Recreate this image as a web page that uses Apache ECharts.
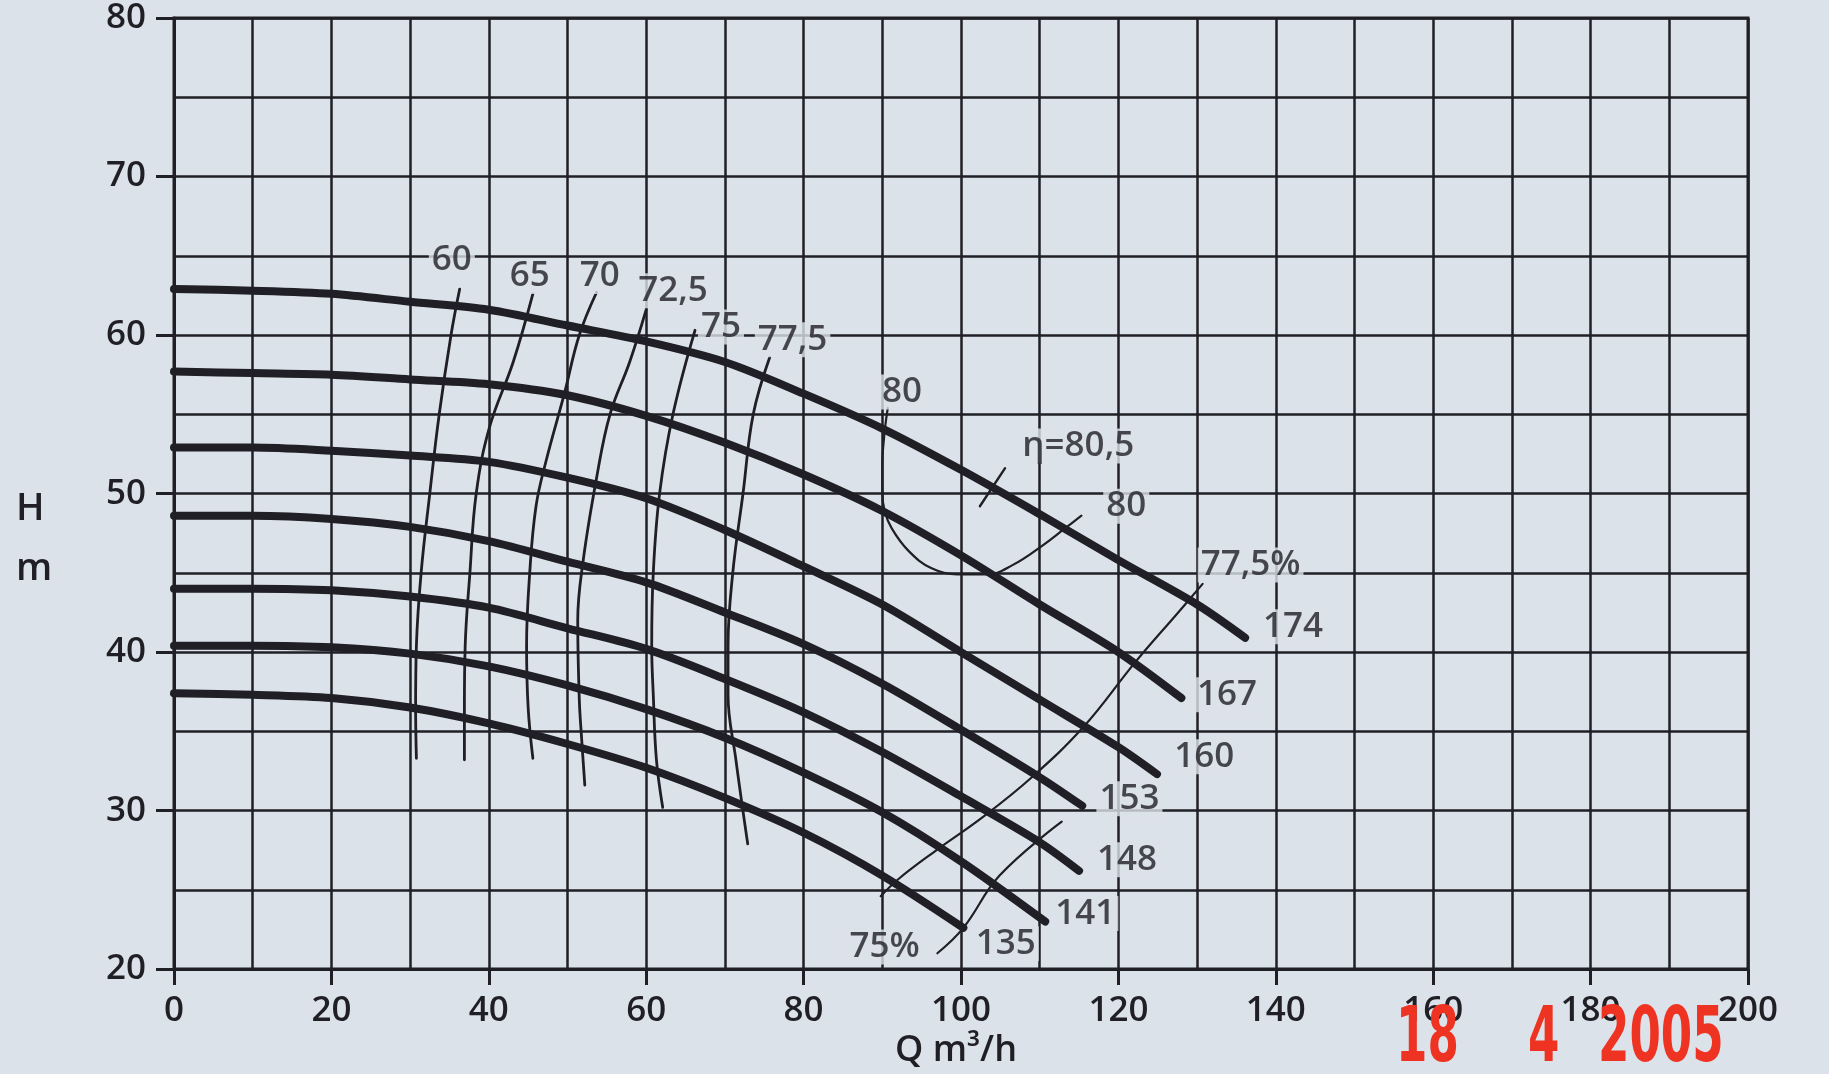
<!DOCTYPE html>
<html>
<head>
<meta charset="utf-8">
<script src="https://cdn.jsdelivr.net/npm/echarts@6/dist/echarts.min.js"></script>
<style>
html,body{margin:0;padding:0;background:#dce2e9;}
#c{width:1829px;height:1074px;}
</style>
</head>
<body>
<div id="c"></div>
<script>
// ---- data (Q in m3/h, H in m) ----
const xTicks = [0, 20, 40, 60, 80, 100, 120, 140, 160, 180, 200];
const yTicks = [20, 30, 40, 50, 60, 70, 80];

const curve174 = [[0,62.9],[10,62.8],[20,62.6],[30,62.1],[40,61.6],[50,60.6],[60,59.6],[70,58.3],[80,56.3],[90,54.1],[100,51.5],[110,48.7],[120,45.8],[130,43.0],[136.1,40.9]];
const curve167 = [[0,57.7],[10,57.6],[20,57.5],[30,57.2],[40,56.9],[50,56.2],[60,54.9],[70,53.2],[80,51.2],[90,48.9],[100,46.1],[110,43.0],[120,40.0],[128,37.1]];
const curve160 = [[0,52.9],[10,52.9],[20,52.7],[30,52.4],[40,52.0],[50,51.0],[60,49.7],[70,47.7],[80,45.4],[90,43.0],[100,40.0],[110,37.0],[120,34.0],[124.9,32.3]];
const curve153 = [[0,48.6],[10,48.6],[20,48.4],[30,47.9],[40,47.0],[50,45.7],[60,44.4],[70,42.5],[80,40.5],[90,38.0],[100,35.1],[110,32.1],[115.4,30.3]];
const curve148 = [[0,44.0],[10,44.0],[20,43.9],[30,43.5],[40,42.8],[50,41.5],[60,40.2],[70,38.3],[80,36.2],[90,33.7],[100,30.9],[110,28.0],[115,26.2]];
const curve141 = [[0,40.4],[10,40.4],[20,40.3],[30,39.9],[40,39.1],[50,37.9],[60,36.4],[70,34.6],[80,32.4],[90,29.9],[100,26.8],[110.7,23.0]];
const curve135 = [[0,37.4],[10,37.3],[20,37.1],[30,36.5],[40,35.5],[50,34.2],[60,32.7],[70,30.8],[80,28.6],[90,25.9],[100.3,22.6]];

const eff60   = [[36.3,62.9],[35.2,60],[33.7,55],[32.5,50],[31.4,45],[30.8,40.4],[30.7,36.5],[30.8,33.3]];
const eff65   = [[45.6,62.6],[43.1,58.3],[40.1,54.2],[38.4,50],[37.6,45],[37.0,40.4],[36.9,36.5],[36.9,33.2]];
const eff70   = [[53.7,62.7],[51.5,60],[49.6,56.3],[47.3,52.1],[46.0,49.2],[45.2,45],[44.8,40.4],[45.0,36.5],[45.6,33.3]];
const eff72_5 = [[60.0,61.6],[57.9,58.3],[55.4,55],[53.7,51],[52.0,45.8],[51.3,42],[51.5,37],[51.8,34.5],[52.2,31.6]];
const eff75   = [[66.2,60.3],[63.4,55],[61.7,50],[60.9,45],[60.7,40.4],[60.9,37.3],[61.3,33.2],[62.1,30.2]];
const eff77_5 = [[75.7,58.6],[73.6,55],[72.3,50],[71.0,45],[70.4,40.4],[70.4,37.3],[71.4,33.2],[72.9,27.9]];
const eff80   = [[90.7,55.4],[90.3,53.9],[90.0,51.8],[90.0,50.1],[90.3,48.9],[91.2,47.8],[93.3,46.4],[96.2,45.3],[99.5,44.9],[103.3,44.9],[106.6,45.5],[110.3,46.7],[113.2,47.8],[115.3,48.6]];
const effR77_5 = [[89.8,24.6],[92.1,25.7],[96.6,27.4],[102.8,29.6],[109.0,32.1],[115.6,35.3],[122.2,39.4],[127.6,42.5],[130.7,44.3]];
const effR75   = [[97.0,21.0],[100.3,22.6],[104.9,25.9],[112.8,29.3]];
const bestPoint = [[102.4,49.2],[105.6,51.6]];

const labels = [
  [35.3,64.7,'60'],[45.2,63.7,'65'],[54.1,63.7,'70'],[63.4,62.8,'72,5'],[69.5,60.5,'75'],[78.6,59.7,'77,5'],
  [92.5,56.4,'80'],[114.9,53.0,'η=80,5'],[121.0,49.2,'80'],[136.8,45.5,'77,5%'],
  [142.2,41.6,'174'],[133.8,37.3,'167'],[130.9,33.4,'160'],[121.4,30.75,'153'],[121.1,26.9,'148'],[115.8,23.5,'141'],[105.7,21.6,'135'],[90.3,21.4,'75%']
];

// ---- styling ----
const INK = '#1f1f25';
const PAPER = '#dce2e9';
const FONT = '"Open Sans", Lato, sans-serif';
const STAMP = '"Liberation Sans Narrow", "DejaVu Sans Condensed", sans-serif';

function headLine(d){return {type:'line',data:d,smooth:0.3,showSymbol:false,silent:true,
  lineStyle:{color:INK,width:8,cap:'round'},z:5};}
function effLine(d,w){return {type:'line',data:d,smooth:0.4,showSymbol:false,silent:true,
  lineStyle:{color:INK,width:w,cap:'round'},z:4};}

const chart = echarts.init(document.getElementById('c'), null, {renderer:'canvas'});
chart.setOption({
  backgroundColor: PAPER,
  animation:false,
  grid:{left:174,right:81,top:18,bottom:96,show:true,borderColor:INK,borderWidth:3,backgroundColor:'transparent'},
  xAxis:[
    {type:'value',min:0,max:200,interval:10,axisLine:{show:false},axisTick:{show:false},axisLabel:{show:false},
     splitLine:{show:true,lineStyle:{color:INK,width:2.5}}},
    {type:'value',min:0,max:200,interval:20,position:'bottom',
     axisLine:{show:true,lineStyle:{color:INK,width:3}},
     axisTick:{show:true,length:16,lineStyle:{color:INK,width:3}},
     axisLabel:{show:true,margin:24,color:INK,fontSize:35,fontWeight:600,fontFamily:FONT},
     splitLine:{show:false},
     name:'Q m³/h',nameLocation:'middle',nameGap:54,nameTextStyle:{color:INK,fontSize:36,fontWeight:600,fontFamily:FONT,padding:[0,0,0,-10]}}
  ],
  yAxis:[
    {type:'value',min:20,max:80,interval:5,axisLine:{show:false},axisTick:{show:false},axisLabel:{show:false},
     splitLine:{show:true,lineStyle:{color:INK,width:2.5}}},
    {type:'value',min:20,max:80,interval:10,position:'left',
     axisLine:{show:true,lineStyle:{color:INK,width:3}},
     axisTick:{show:true,length:18,lineStyle:{color:INK,width:3}},
     axisLabel:{show:true,margin:28,color:INK,fontSize:35,fontWeight:600,fontFamily:FONT},
     splitLine:{show:false}}
  ],
  graphic:[
    {type:'text',left:16,top:490,style:{text:'H',fontSize:38,fontWeight:600,fontFamily:FONT,fill:INK}},
    {type:'text',left:16,top:550,style:{text:'m',fontSize:38,fontWeight:600,fontFamily:FONT,fill:INK}},
    {type:'text',left:1396,top:1003,scaleX:0.66,style:{text:'18',fontSize:76,fontWeight:'bold',fontFamily:STAMP,fill:'#ee3322'},z:100},
    {type:'text',left:1528,top:1003,scaleX:0.66,style:{text:'4',fontSize:76,fontWeight:'bold',fontFamily:STAMP,fill:'#ee3322'},z:100},
    {type:'text',left:1598,top:1003,scaleX:0.66,style:{text:'2005',fontSize:76,fontWeight:'bold',fontFamily:STAMP,fill:'#ee3322'},z:100}
  ],
  series:[
    headLine(curve174),headLine(curve167),headLine(curve160),headLine(curve153),
    headLine(curve148),headLine(curve141),headLine(curve135),
    effLine(eff60,2.8),effLine(eff65,2.8),effLine(eff70,2.8),effLine(eff72_5,2.8),
    effLine(eff75,2.8),effLine(eff77_5,2.8),
    effLine(eff80,2.2),effLine(effR77_5,2.2),effLine(effR75,2.2),effLine(bestPoint,2.4),
    {type:'scatter',data:labels,symbolSize:0,silent:true,z:10,
     label:{show:true,position:'inside',formatter:p=>p.data[2],color:INK,fontSize:35,fontWeight:600,fontFamily:FONT,
       backgroundColor:PAPER,padding:[0,3]}}
  ]
});
</script>
</body>
</html>
